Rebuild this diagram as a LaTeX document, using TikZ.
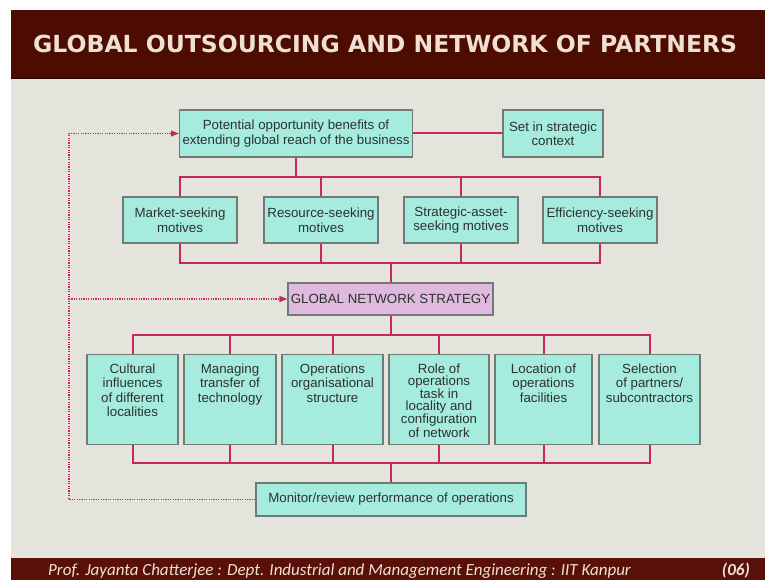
\documentclass[tikz,border=0pt]{standalone}
\usepackage{fontspec}
\setmainfont{Liberation Sans}
\newfontfamily\headfont{DejaVu Sans}
\newfontfamily\footfont{Carlito}
\usetikzlibrary{arrows.meta}

\definecolor{barbrown}{RGB}{76,12,2}
\definecolor{footbrown}{RGB}{88,16,8}
\definecolor{slidegray}{RGB}{229,228,220}
\definecolor{boxcyan}{RGB}{166,236,222}
\definecolor{boxlilac}{RGB}{224,186,222}
\definecolor{boxline}{RGB}{112,122,120}
\definecolor{linkred}{RGB}{198,40,88}
\definecolor{cream}{RGB}{240,224,212}
\definecolor{boxtext}{RGB}{44,50,48}

% text block hanging from its first line
\newcommand{\toplines}[1]{\begin{minipage}[t]{88pt}\centering #1\end{minipage}}

\begin{document}
\begin{tikzpicture}[x=1pt,y=-1pt,
    fillbox/.style={draw=boxline,line width=1.2pt,fill=boxcyan,text=boxtext,
      align=center,inner sep=0pt,font=\fontsize{13.3}{14.5}\selectfont},
    motive/.style={fillbox,minimum width=114pt,minimum height=46pt},
    lowbox/.style={fillbox,anchor=north,minimum height=90pt,inner ysep=10pt,
      text height=9pt,text depth=61pt,font=\fontsize{13.3}{14.3}\selectfont},
    link/.style={draw=linkred,line width=2pt},
    feedback/.style={draw=linkred,line width=1.3pt,dash pattern=on 1.2pt off 1.2pt},
  ]
  \useasboundingbox (0,0) rectangle (765,580);
  % slide background, title bar and footer
  \fill[white] (0,0) rectangle (765,580);
  \fill[slidegray] (11,78) rectangle (765,558);
  \fill[barbrown] (11,10) rectangle (765,78);
  \fill[footbrown] (11,558) rectangle (765,580);
  \draw[black!60!barbrown,line width=1.5pt] (11,78.5) -- (765,78.5);

  \node[anchor=base west,text=cream,inner sep=0pt,
    font=\headfont\bfseries\fontsize{23.5}{23.5}\selectfont] (title) at (33,53)
    {GLOBAL OUTSOURCING AND NETWORK OF PARTNERS};
  \node[anchor=base west,text=cream,inner sep=0pt,
    font=\footfont\itshape\fontsize{17}{17}\selectfont] (credit) at (48,575)
    {Prof. Jayanta Chatterjee : Dept. Industrial and Management Engineering : IIT Kanpur};
  \node[anchor=base east,text=cream,inner sep=0pt,
    font=\footfont\bfseries\itshape\fontsize{17}{17}\selectfont] (page) at (750,575) {(06)};

  % top level
  \node[fillbox,minimum width=233pt,minimum height=47pt] (benefit) at (296,133.5)
    {Potential opportunity benefits of\\extending global reach of the business};
  \node[fillbox,minimum width=100pt,minimum height=47pt] (context) at (553,133.5)
    {Set in strategic\\context};

  % motives
  \node[motive] (market) at (180,220) {Market-seeking\\motives};
  \node[motive] (resource) at (321,220) {Resource-seeking\\motives};
  \node[motive] (asset) at (461,220) {Strategic-asset-\\seeking motives};
  \node[motive] (effic) at (600,220) {Efficiency-seeking\\motives};

  \node[fillbox,fill=boxlilac,minimum width=205pt,minimum height=32pt] (gns) at (390.5,299)
    {GLOBAL NETWORK STRATEGY};

  % decision areas
  \node[lowbox,minimum width=91pt] (culture) at (132.5,354)
    {\toplines{Cultural\\influences\\of different\\localities}};
  \node[lowbox,minimum width=92pt] (transfer) at (230,354)
    {\toplines{Managing\\transfer of\\technology}};
  \node[lowbox,minimum width=101pt] (structure) at (332.5,354)
    {\toplines{Operations\\organisational\\structure}};
  \node[lowbox,minimum width=100pt,font=\fontsize{13.3}{11.7}\selectfont] (role) at (439,354)
    {\toplines{Role of\\operations\\task in\\locality and\\configuration\\of network}};
  \node[lowbox,minimum width=97pt] (location) at (543.5,354)
    {\toplines{Location of\\operations\\facilities}};
  \node[lowbox,minimum width=101pt] (partners) at (649.5,354)
    {\toplines{Selection\\of partners/\\subcontractors}};

  \node[fillbox,minimum width=270pt,minimum height=33pt] (monitor) at (391,499.5)
    {Monitor/review performance of operations};

  % bus levels
  \coordinate (busA) at (0,177);
  \coordinate (busB) at (0,263);
  \coordinate (busC) at (0,335);
  \coordinate (busD) at (0,463);
  \coordinate (fb) at (69,0);

  \draw[link] (benefit) -- (context);
  \draw[link] (benefit.south) -- (benefit.south |- busA);
  \draw[link] (market.north) -- (market.north |- busA) -- (effic.north |- busA) -- (effic.north);
  \draw[link] (resource.north) -- (resource.north |- busA);
  \draw[link] (asset.north) -- (asset.north |- busA);
  \draw[link] (market.south) -- (market.south |- busB) -- (effic.south |- busB) -- (effic.south);
  \draw[link] (resource.south) -- (resource.south |- busB);
  \draw[link] (asset.south) -- (asset.south |- busB);
  \draw[link] (gns.north |- busB) -- (gns.north);

  \draw[link] (gns.south) -- (gns.south |- busC);
  \draw[link] (culture.north) -- (culture.north |- busC) -- (partners.north |- busC) -- (partners.north);
  \draw[link] (culture.south) -- (culture.south |- busD) -- (partners.south |- busD) -- (partners.south);
  \foreach \d in {transfer,structure,role,location}
  {
    \draw[link] (\d.north) -- (\d.north |- busC);
    \draw[link] (\d.south) -- (\d.south |- busD);
  }
  \draw[link] (monitor.north |- busD) -- (monitor.north);

  % review loop
  \draw[feedback,-{Triangle[length=8pt,width=6pt]}] (monitor.west) -- (monitor.west -| fb) |- (benefit.west);
  \draw[feedback,-{Triangle[length=8pt,width=6pt]}] (gns.west -| fb) -- (gns.west);
\end{tikzpicture}
\end{document}
